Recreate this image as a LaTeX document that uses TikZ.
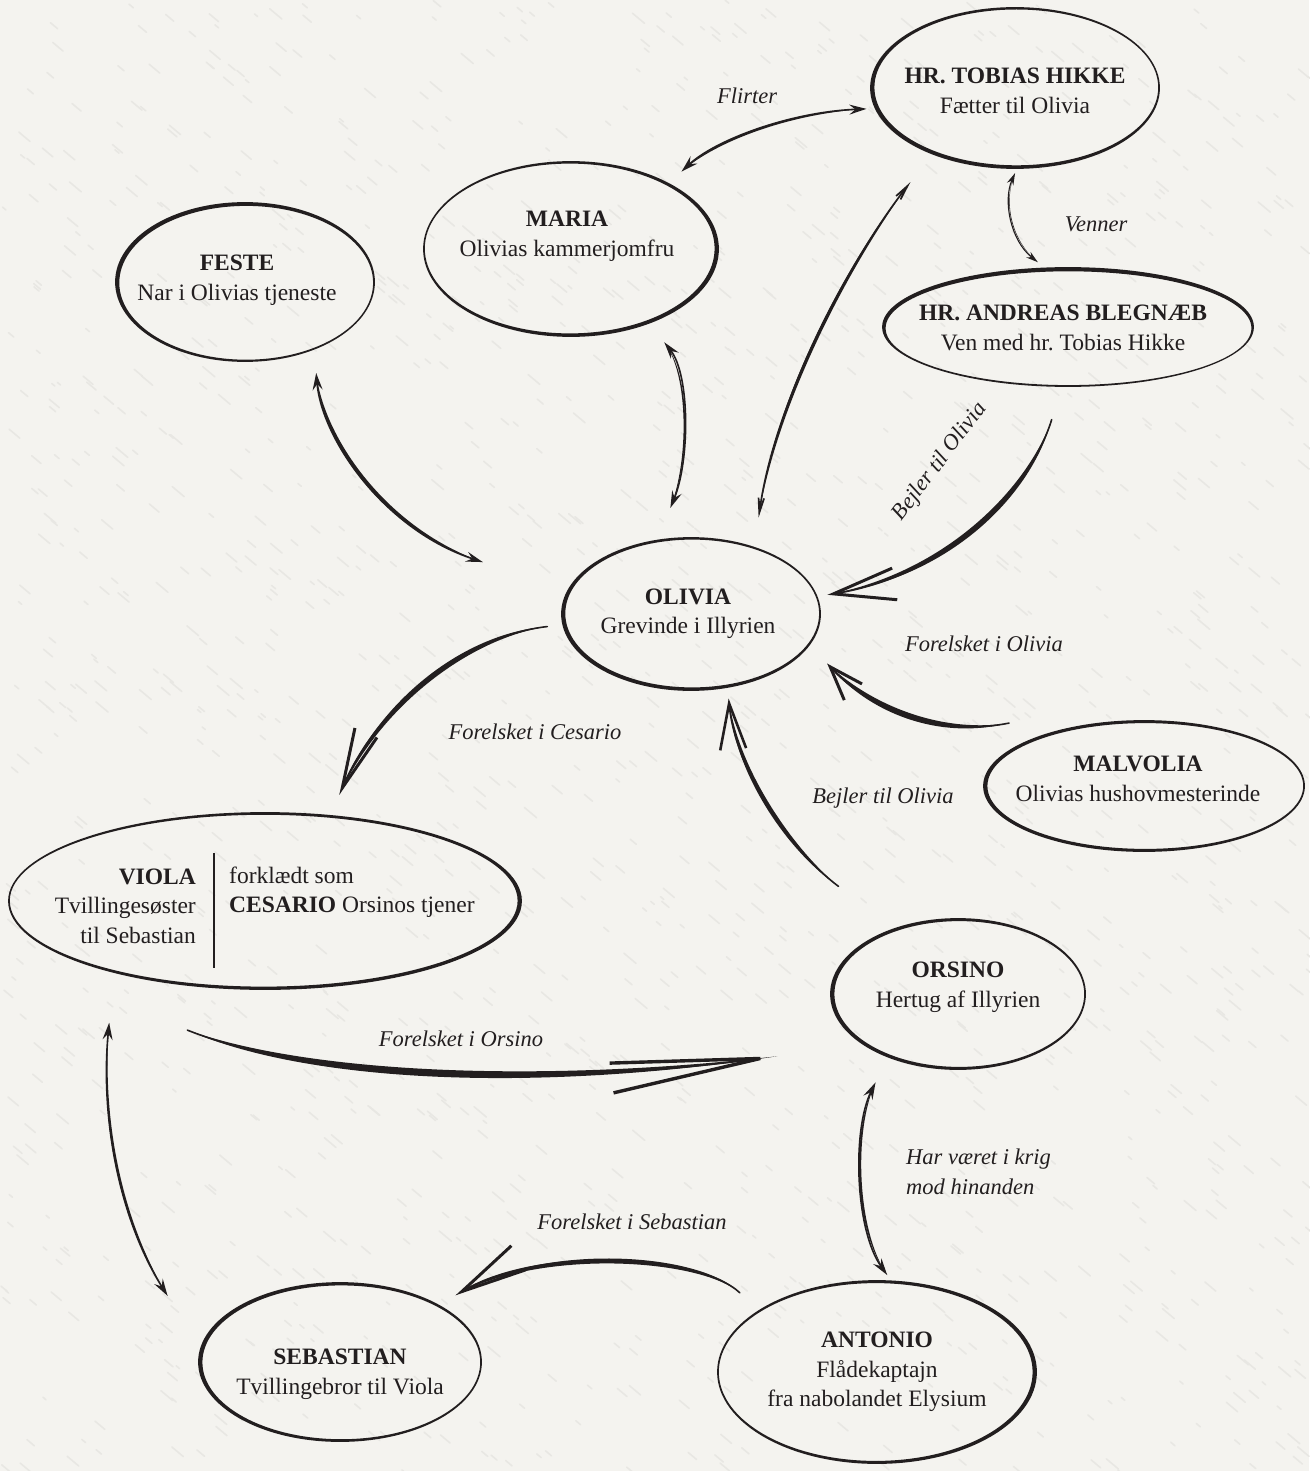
\documentclass[tikz,border=0pt]{standalone}
\usepackage{fontspec}
\setmainfont{Liberation Serif}
\usetikzlibrary{arrows.meta,calc,shapes.geometric}
\definecolor{paper}{HTML}{F4F3EF}
\definecolor{ink}{HTML}{221E1F}
\definecolor{grain}{HTML}{E8E7E3}
\frenchspacing
\tikzset{
  dh/.tip={Stealth[length=17pt,width=10pt,inset=6pt]},
  vh/.tip={Stealth[length=12pt,width=7pt,inset=4pt]},
  bh/.tip={Stealth[length=40pt,width=15pt,inset=28pt]},
  txt/.style={align=center, text=ink, font=\fontsize{23.5}{29.5}\selectfont, inner sep=0pt},
  lbl/.style={text=ink, font=\fontsize{22.5}{30}\selectfont\itshape, inner sep=0pt},
}
% brush stroke: #1 start, #2 end, #3 control 1, #4 control 2, #5 half swell, #6 arrow options
\newcommand\brush[6]{%
  \path (#1) coordinate (bS) (#2) coordinate (bE)
        ($(bS)!#5!90:(bE)$) coordinate (bN);
  \fill[ink] (bS) .. controls ($(#3)+(bN)-(bS)$) and ($(#4)+(bN)-(bS)$) .. (bE)
        .. controls ($(#4)-(bN)+(bS)$) and ($(#3)-(bN)+(bS)$) .. (bS) -- cycle;
  \draw[ink, line width=1.6pt, line cap=round, #6] (bS) .. controls (#3) and (#4) .. (bE);
}
% person ellipse: #1 name, #2 x, #3 y, #4 rx, #5 ry, #6 dx, #7 dy
\newcommand\person[7]{%
  \node[shape=ellipse, inner sep=0pt, minimum width={2*#4pt}, minimum height={2*#5pt}] (#1) at (#2,#3) {};
  \fill[ink, even odd rule] (#1.center) ellipse [x radius={#4pt+1.9pt}, y radius={#5pt+1.9pt}]
        ([shift={(#6pt,#7pt)}]#1.center) ellipse [x radius={#4pt-1.1pt}, y radius={#5pt-1.1pt}];
}
\begin{document}
\begin{tikzpicture}[x=1pt,y=-1pt]
\useasboundingbox (0,0) rectangle (1309,1471);
\fill[paper] (0,0) rectangle (1309,1471);
\pgfmathsetseed{11}
\foreach \k in {1,...,1600}{
  \pgfmathsetmacro{\gx}{rnd*1309}
  \pgfmathsetmacro{\gy}{rnd*1471}
  \pgfmathsetmacro{\gl}{4+rnd*12}
  \draw[grain, line width=1.6pt, line cap=round] (\gx,\gy) -- ++(-40:\gl pt);
}

% ---------- people ----------
\person{tobias}{1015}{88}{143}{79}{1.3}{0.6}
\person{maria}{571}{249}{146}{86}{-1.3}{0.5}
\person{feste}{245}{282}{128}{78}{1.2}{-0.8}
\person{andreas}{1068}{327}{184}{58}{0.5}{-1.2}
\person{olivia}{691}{614}{128}{75}{1.2}{0.5}
\person{malvolia}{1144}{786}{159}{64}{1.3}{0}
\person{viola}{265}{901}{255}{87}{-1.3}{0.3}
\person{orsino}{958}{994}{126}{74}{1.3}{0}
\person{sebastian}{340}{1362}{140}{78}{1.3}{-0.3}
\person{antonio}{877}{1372}{158}{90}{-1.3}{0}

\node[txt] (tobiasT) at (1015,91) {\textbf{HR. TOBIAS HIKKE}\\Fætter til Olivia};
\node[txt] (mariaT) at (567,236) {\textbf{MARIA}\\Olivias kammerjomfru};
\node[txt] (festeT) at (237,280) {\textbf{FESTE}\\Nar i Olivias tjeneste};
\node[txt] (andreasT) at (1063,328) {\textbf{HR. ANDREAS BLEGNÆB}\\Ven med hr. Tobias Hikke};
\node[txt] (oliviaT) at (688,614) {\textbf{OLIVIA}\\Grevinde i Illyrien};
\node[txt] (malvoliaT) at (1138,779) {\textbf{MALVOLIA}\\Olivias hushovmesterinde};
\node[txt, align=right, anchor=east] (violaT) at (196,906) {\textbf{VIOLA}\\Tvillingesøster\\til Sebastian};
\node[txt, align=left, anchor=west] (cesarioT) at (229,892) {forklædt som\\\textbf{CESARIO} Orsinos tjener};
\draw[ink, line width=2.4pt] (214,853) -- (214,968);
\node[txt] (orsinoT) at (958,987) {\textbf{ORSINO}\\Hertug af Illyrien};
\node[txt] (sebastianT) at (340,1374) {\textbf{SEBASTIAN}\\Tvillingebror til Viola};
\node[txt] (antonioT) at (877,1372) {\textbf{ANTONIO}\\Flådekaptajn\\fra nabolandet Elysium};

% ---------- connectors ----------
\brush{$(maria.35)!-20pt!(maria.center)$}{$(tobias.188)!-10pt!(tobias.center)$}{715,140}{790,112}{1.4pt}{dh-dh}
\brush{$(tobias.270)!-6pt!(tobias.center)$}{$(andreas.115)!-8pt!(andreas.center)$}{1003,200}{1010,240}{0.4pt}{vh-vh, line width=1.1pt}
\brush{$(olivia.55)!-33pt!(olivia.center)$}{$(tobias.222)!-40pt!(tobias.center)$}{775,400}{850,260}{2.2pt}{bh-bh}
\brush{$(maria.315)!-27pt!(maria.center)$}{$(olivia.101)!-32pt!(olivia.center)$}{690,375}{690,460}{1.1pt}{dh-dh}
\brush{$(feste.308)!-26pt!(feste.center)$}{$(olivia.166)!-93pt!(olivia.center)$}{322,440}{385,530}{2.4pt}{dh-dh}
\brush{$(andreas.260)!-35pt!(andreas.center)$}{$(olivia.8)!-12pt!(olivia.center)$}{1030,490}{950,575}{3.8pt}{-{Straight Barb[length=62pt,width=32pt,line width=3pt]}}
\brush{$(malvolia.155)!-34pt!(malvolia.center)$}{$(olivia.340)!-29pt!(olivia.center)$}{935,738}{865,705}{4pt}{-{Straight Barb[length=34pt,width=24pt,line width=3pt]}}
\brush{$(orsino.138)!-68pt!(orsino.center)$}{$(olivia.294)!-13pt!(olivia.center)$}{790,850}{735,770}{3pt}{-{Straight Barb[length=46pt,width=26pt,line width=2.6pt]}}
\brush{$(olivia.185)!-17pt!(olivia.center)$}{$(viola.55)!-26pt!(viola.center)$}{470,635}{380,700}{3.6pt}{-{Straight Barb[length=60pt,width=24pt,line width=3pt]}}
\brush{$(viola.239)!-51pt!(viola.center)$}{$(orsino.199)!-76pt!(orsino.center)$}{300,1075}{520,1090}{4.8pt}{-{Straight Barb[length=150pt,width=30pt,line width=3.4pt]}}
\brush{$(viola.218)!-68pt!(viola.center)$}{$(sebastian.159)!-61pt!(sebastian.center)$}{100,1120}{120,1220}{1.5pt}{dh-dh}
\brush{$(orsino.227)!-32pt!(orsino.center)$}{$(antonio.84)!-7pt!(antonio.center)$}{852,1130}{855,1230}{1.5pt}{dh-dh}
\brush{$(antonio.150)!-30pt!(antonio.center)$}{$(sebastian.30)!-21pt!(sebastian.center)$}{700,1255}{540,1245}{3.3pt}{-{Straight Barb[length=66pt,width=28pt,line width=3pt]}}

% ---------- labels ----------
\node[lbl] (lFlirter) at (747,96) {Flirter};
\node[lbl] (lVenner) at (1096,224) {Venner};
\node[lbl, rotate=53] (lBejler1) at (940,462) {Bejler til Olivia};
\node[lbl] (lMalv) at (984,644) {Forelsket i Olivia};
\node[lbl] (lCes) at (535,732) {Forelsket i Cesario};
\node[lbl] (lBejler2) at (883,798) {Bejler til Olivia};
\node[lbl] (lOrs) at (461,1039) {Forelsket i Orsino};
\node[lbl, align=left, anchor=west] (lKrig) at (906,1172) {Har været i krig\\mod hinanden};
\node[lbl] (lSeb) at (632,1222) {Forelsket i Sebastian};
\end{tikzpicture}
\end{document}
